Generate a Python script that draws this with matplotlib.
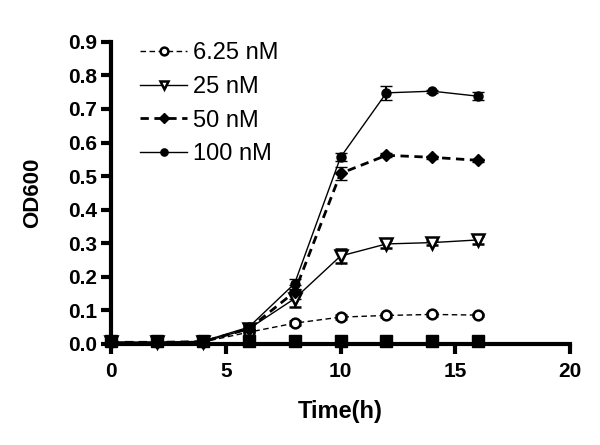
import matplotlib
matplotlib.use("Agg")
import matplotlib.pyplot as plt
from matplotlib.lines import Line2D

plt.rcParams['font.family'] = ['Liberation Sans', 'DejaVu Sans']

time = [0, 2, 4, 6, 8, 10, 12, 14, 16]
ctrl = [0.008, 0.008, 0.008, 0.008, 0.008, 0.008, 0.010, 0.010, 0.010]
c625 = [0.005, 0.005, 0.006, 0.035, 0.062, 0.080, 0.085, 0.088, 0.086]
c25 = [0.005, 0.005, 0.006, 0.045, 0.135, 0.262, 0.298, 0.302, 0.310]
c50 = [0.005, 0.005, 0.007, 0.045, 0.155, 0.508, 0.562, 0.556, 0.547]
c100 = [0.005, 0.005, 0.008, 0.050, 0.180, 0.556, 0.748, 0.753, 0.738]
e625 = [0.002, 0.002, 0.002, 0.003, 0.005, 0.005, 0.004, 0.004, 0.004]
e25 = [0.002, 0.002, 0.002, 0.005, 0.025, 0.020, 0.012, 0.006, 0.012]
e50 = [0.002, 0.002, 0.002, 0.005, 0.020, 0.020, 0.006, 0.005, 0.005]
e100 = [0.002, 0.002, 0.002, 0.005, 0.015, 0.012, 0.020, 0.005, 0.012]
labels = ['6.25 nM', '25 nM', '50 nM', '100 nM']

fig = plt.figure(figsize=(6, 4.45), dpi=100)
ax = fig.add_axes([0.185, 0.227, 0.765, 0.679])

styles = [
    dict(linestyle=(0, (4, 2.5)), lw=1, marker='o', markersize=7, mfc='white', mew=1.8),
    dict(linestyle='-', lw=1, marker='v', markersize=8, mfc='white', mew=1.8),
    dict(linestyle=(0, (3, 2)), lw=2, marker='D', markersize=6.5, mfc='black', mew=1),
    dict(linestyle='-', lw=1, marker='o', markersize=6.5, mfc='black', mew=1),
]
series = [c625, c25, c50, c100]
errs = [e625, e25, e50, e100]

ax.plot(time, ctrl, color='black', marker='s', markersize=8.5, linestyle='none',
        clip_on=False, zorder=5)
for y, e, st in zip(series, errs, styles):
    ax.errorbar(time, y, yerr=e, color='black', mec='black',
                capsize=4.5, capthick=2, elinewidth=1.5, clip_on=False, **st)

ax.set_xlim(0, 20)
ax.set_ylim(0, 0.9)
ax.set_xticks([0, 5, 10, 15, 20])
ax.set_yticks([i / 10 for i in range(10)])
ax.set_yticklabels([f'{i/10:.1f}' for i in range(10)])
for s in ['top', 'right']:
    ax.spines[s].set_visible(False)
for s in ['left', 'bottom']:
    ax.spines[s].set_linewidth(3)
ax.tick_params(width=3, length=7, labelsize=15, direction='out', pad=3)
ax.tick_params(axis='x', pad=6)
for t in ax.get_xticklabels() + ax.get_yticklabels():
    t.set_fontweight('bold')
ax.set_xlabel('Time(h)', fontsize=17, fontweight='bold', labelpad=14)
ax.set_ylabel('OD600', fontsize=16, fontweight='bold', labelpad=18)

handles = []
for st in styles:
    hs = dict(st)
    hs['markersize'] = hs['markersize'] * 0.8
    handles.append(Line2D([], [], color='black', mec='black', **hs))
leg = fig.legend(handles, labels, loc='upper left',
                 bbox_to_anchor=(140 / 600, 1 - 42 / 445), frameon=False,
                 fontsize=17, handlelength=2.0, handletextpad=0.25,
                 labelspacing=0.5, borderpad=0, borderaxespad=0)

fig.savefig('out.png', dpi=100)
